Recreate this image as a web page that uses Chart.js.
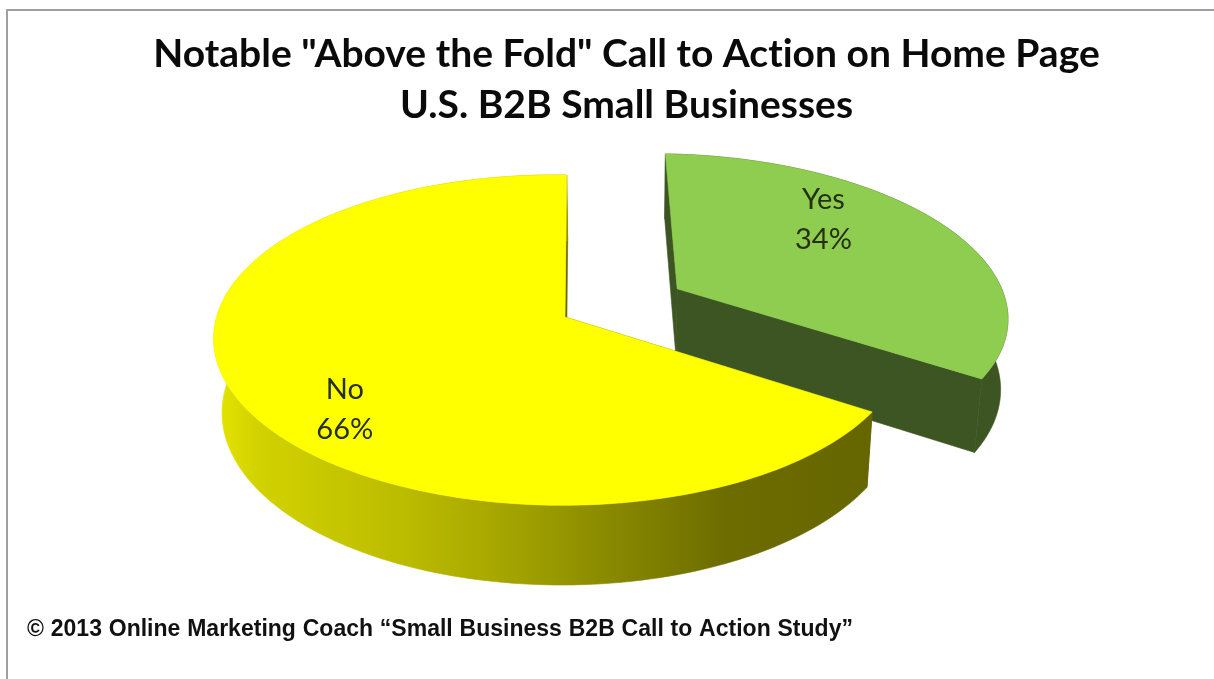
<!DOCTYPE html>
<html>
<head>
<meta charset="utf-8">
<title>Call to Action</title>
<script src="https://cdn.jsdelivr.net/npm/chart.js@4"></script>
<style>
  html, body { margin: 0; background: #fff; overflow: hidden; }
  #frame { position: absolute; left: 6px; top: 9px; right: 0; bottom: 0; border-left: 2px solid #a0a0a0; border-top: 2px solid #a0a0a0; }
  canvas { position: absolute; left: 0; top: 0; }
</style>
</head>
<body>
<div id="frame"></div>
<canvas id="myChart" width="1214" height="679"></canvas>
<script>
const categories = ["Yes", "No"];
const shares = [34, 66];
const titleLines = ['Notable "Above the Fold" Call to Action on Home Page', "U.S. B2B Small Businesses"];
const sourceLine = "© 2013 Online Marketing Coach “Small Business B2B Call to Action Study”";

const faceColors = ["#8fcd50", "#ffff00"];
const wallColors = ["#3d5522", "#666600"];
const labelRadius = [0.55, 0.7];
const labelNudge = [[-3, -31.5], [3, 37]];

// perspective of the tilted pie: u right, v towards the viewer, h down the wall
const view = {
  xu: 350.8, xv: -81, x0: 565, xh: 12.5,
  yu: 7.5, yv: 117.5, y0: 317, yh: 80.3,
  wu: 0.015, wv: -0.14, wh: 0.02,
};

function project(u, v, h) {
  const w = 1 + view.wu * u + view.wv * v + view.wh * h;
  return {
    x: (view.xu * u + view.xv * v + view.x0 + view.xh * h) / w,
    y: (view.yu * u + view.yv * v + view.y0 + view.yh * h) / w,
  };
}

// ground point of a slice, r=1 is the rim
function groundPoint(arc, angle, r) {
  const mid = (arc.startAngle + arc.endAngle) / 2;
  const push = arc.options.offset / arc.outerRadius;
  return {
    u: Math.cos(angle) * r + Math.cos(mid) * push,
    v: Math.sin(angle) * r + Math.sin(mid) * push,
  };
}

function rimPoints(arc, h) {
  const pts = [];
  const steps = 160;
  for (let i = 0; i <= steps; i++) {
    const a = arc.startAngle + ((arc.endAngle - arc.startAngle) * i) / steps;
    const g = groundPoint(arc, a, 1);
    pts.push(project(g.u, g.v, h));
  }
  return pts;
}

function fillShape(ctx, pts, color) {
  ctx.beginPath();
  pts.forEach((p, i) => (i ? ctx.lineTo(p.x, p.y) : ctx.moveTo(p.x, p.y)));
  ctx.closePath();
  ctx.fillStyle = color;
  ctx.strokeStyle = color;
  ctx.lineWidth = 0.6;
  ctx.fill();
  ctx.stroke();
}

function sideGradient(ctx) {
  const g = ctx.createLinearGradient(218, 0, 870, 0);
  g.addColorStop(0, "#e4e400");
  g.addColorStop(0.06, "#d2d200");
  g.addColorStop(0.28, "#bcbc00");
  g.addColorStop(0.42, "#a8a800");
  g.addColorStop(0.62, "#868600");
  g.addColorStop(0.78, "#6c6c00");
  g.addColorStop(1, "#666600");
  return g;
}

const tiltedPie = {
  id: "tiltedPie",
  beforeDraw(chart) {
    // keeps "ti" in the title as two letters
    chart.ctx.letterSpacing = "0.01px";
  },
  beforeDatasetDraw(chart) {
    const ctx = chart.ctx;
    chart.getDatasetMeta(0).data.forEach((arc, i) => {
      const top = rimPoints(arc, 0);
      const bottom = rimPoints(arc, 1);
      const g = groundPoint(arc, arc.startAngle, 0);
      const apexTop = project(g.u, g.v, 0);
      const apexBottom = project(g.u, g.v, 1);
      const wall = i === 1 ? sideGradient(ctx) : wallColors[i];

      ctx.save();
      fillShape(ctx, [apexTop, top[0], bottom[0], apexBottom], wallColors[i]);
      fillShape(ctx, [apexTop, top[top.length - 1], bottom[bottom.length - 1], apexBottom], wallColors[i]);
      fillShape(ctx, top.concat(bottom.slice().reverse()), wall);
      fillShape(ctx, [apexTop].concat(top), faceColors[i]);
      ctx.restore();
    });
    return false;
  },
  afterDatasetsDraw(chart) {
    const ctx = chart.ctx;
    ctx.save();
    ctx.font = "29px Lato";
    ctx.fillStyle = "#26300f";
    ctx.textAlign = "center";
    ctx.textBaseline = "middle";
    chart.getDatasetMeta(0).data.forEach((arc, i) => {
      const mid = (arc.startAngle + arc.endAngle) / 2;
      const g = groundPoint(arc, mid, labelRadius[i]);
      const p = project(g.u, g.v, 0);
      const x = p.x + labelNudge[i][0];
      const y = p.y + labelNudge[i][1];
      ctx.fillText(categories[i], x, y - 20);
      ctx.fillText(shares[i] + "%", x, y + 20);
    });
    ctx.restore();
  },
  afterDraw(chart) {
    const ctx = chart.ctx;
    ctx.save();
    ctx.font = "bold 23px 'Liberation Sans'";
    ctx.wordSpacing = "0.4px";
    ctx.fillStyle = "#111";
    ctx.textBaseline = "alphabetic";
    ctx.fillText(sourceLine, 27, 636);
    ctx.restore();
  },
};

new Chart("myChart", {
  type: "pie",
  data: {
    labels: categories,
    datasets: [
      {
        data: shares,
        backgroundColor: faceColors,
        borderWidth: 0,
        offset: [74, 0],
      },
    ],
  },
  options: {
    responsive: false,
    animation: false,
    layout: { padding: { left: 39, bottom: 70 } },
    plugins: {
      legend: { display: false },
      tooltip: { enabled: false },
      title: {
        display: true,
        text: titleLines,
        color: "#0a0a0a",
        font: { family: "Lato", size: 39, weight: "bold", lineHeight: 1.308 },
        padding: { top: 29, bottom: 19 },
      },
    },
  },
  plugins: [tiltedPie],
});
</script>
</body>
</html>
